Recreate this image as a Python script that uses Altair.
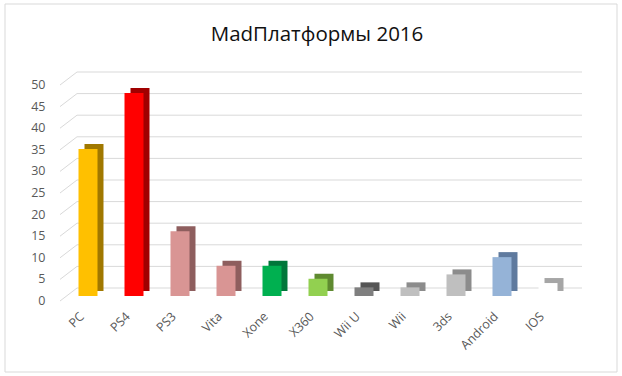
import altair as alt
import pandas as pd

platforms = ["PC", "PS4", "PS3", "Vita", "Xone", "X360", "Wii U", "Wii", "3ds", "Android", "IOS"]
values = [34, 47, 15, 7, 7, 4, 2, 2, 5, 9, 3]
front_colors = ["#FFC000", "#FF0000", "#D99594", "#D99594", "#00B050", "#92D050",
                "#7F7F7F", "#BFBFBF", "#BFBFBF", "#95B3D7", "#FFFFFF"]
side_colors = ["#A07800", "#A00000", "#8E5E5E", "#8E5E5E", "#00773A", "#5F8A30",
               "#555555", "#8C8C8C", "#8C8C8C", "#5F7A9E", "#A6A6A6"]
y_ticks = [0, 5, 10, 15, 20, 25, 30, 35, 40, 45, 50]
title_text = "MadПлатформы 2016"

W, H = 506, 216
L, T = 65, 80

df = pd.DataFrame({"platform": platforms, "value": values,
                   "front": front_colors, "side": side_colors})
grid = pd.DataFrame({"value": y_ticks})

yscale = alt.Scale(domain=[0, 50], nice=False, zero=True)
xscale = alt.Scale(domain=platforms, paddingInner=0.587, paddingOuter=0.2935)

xaxis = alt.Axis(title=None, labelAngle=-45, labelAlign="right", labelBaseline="middle",
                 domain=False, ticks=False, labelOffset=-6,
                 labelPadding=18, labelFontSize=12.5, labelColor="#595959",
                 labelFont="Open Sans", zindex=1)
yaxis = alt.Axis(title=None, values=y_ticks, grid=False, domain=False, ticks=False,
                 labelPadding=20, labelOffset=4.5, labelFontSize=12.5,
                 labelColor="#595959", labelFont="Open Sans", zindex=1)

X = alt.X("platform:N", sort=platforms, scale=xscale, axis=xaxis)
Y = alt.Y("value:Q", scale=yscale, axis=yaxis)

border = alt.Chart(pd.DataFrame({"a": [0]})).mark_rect(
    fillOpacity=0, stroke="#D9D9D9", strokeWidth=1
).encode(x=alt.value(-60), x2=alt.value(552), y=alt.value(-76), y2=alt.value(292))

back_grid = alt.Chart(grid).mark_rule(color="#D9D9D9", strokeWidth=1, yOffset=-8).encode(
    y=Y, x=alt.value(12), x2=alt.value(517),
)

slant_grid = alt.Chart(grid).mark_rule(color="#D9D9D9", strokeWidth=1, yOffset=5, y2Offset=-8).encode(
    y=Y, y2=alt.Y2("value"), x=alt.value(-5), x2=alt.value(12),
)

side = alt.Chart(df).mark_bar(xOffset=6, x2Offset=6, yOffset=-5, y2Offset=-5).encode(
    x=X, y=Y, color=alt.Color("side:N", scale=None, legend=None),
)

front = alt.Chart(df).mark_bar().encode(
    x=X, y=Y, color=alt.Color("front:N", scale=None, legend=None),
)

title = alt.Chart(pd.DataFrame({"t": [title_text]})).mark_text(
    font="Open Sans", fontSize=20.5, color="#111111", baseline="alphabetic", align="center"
).encode(text="t:N", x=alt.value(252), y=alt.value(-39))

chart = alt.layer(border, back_grid, slant_grid, side, front, title).properties(
    width=W, height=H,
    background="white",
    autosize=alt.AutoSizeParams(type="none"),
    padding={"left": L, "top": T, "right": 622 - L - W, "bottom": 376 - T - H},
).configure_view(stroke=None)

chart.save("out.html", embed_options={"renderer": "svg", "actions": False})
